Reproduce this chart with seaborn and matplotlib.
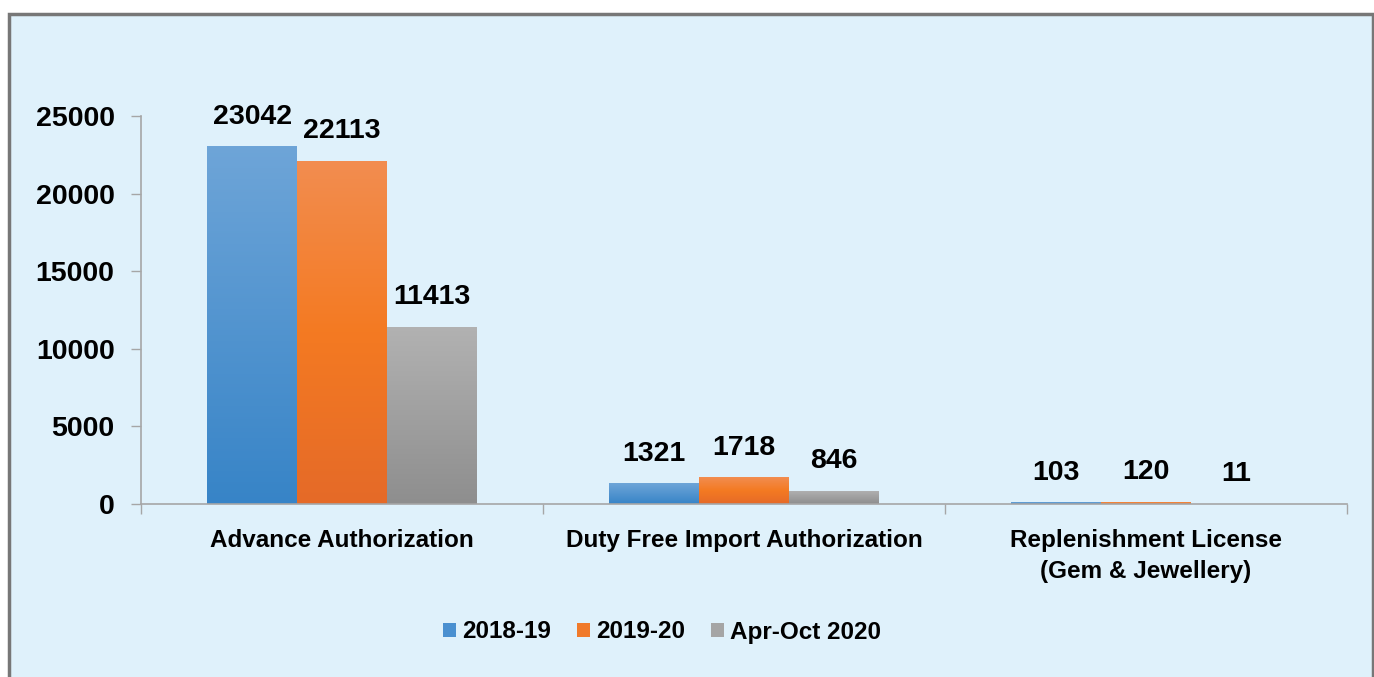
import numpy as np
import pandas as pd
import matplotlib
matplotlib.use("Agg")
import matplotlib.pyplot as plt
from matplotlib.colors import LinearSegmentedColormap
from matplotlib.patches import Rectangle, Patch
import seaborn as sns

categories = ["Advance Authorization", "Duty Free Import Authorization",
              "Replenishment License\n(Gem & Jewellery)"]
periods = ["2018-19", "2019-20", "Apr-Oct 2020"]
v_2018_19 = [23042, 1321, 103]
v_2019_20 = [22113, 1718, 120]
v_apr_oct_2020 = [11413, 846, 11]
y_ticks = [0, 5000, 10000, 15000, 20000, 25000]

colors = ["#4a90d0", "#f07a2a", "#a5a5a5"]
gradients = [("#6ea5d8", "#3784c7"), ("#f28d50", "#f47a22", "#e56a28"), ("#b2b2b2", "#8e8e8e")]

df = pd.DataFrame({
    "category": categories * 3,
    "period": [p for p in periods for _ in categories],
    "value": v_2018_19 + v_2019_20 + v_apr_oct_2020,
})

sns.set_theme(style="white")
plt.rcParams["font.family"] = ["Liberation Sans", "DejaVu Sans"]
plt.rcParams["font.weight"] = "bold"
plt.rcParams["text.color"] = "black"
plt.rcParams["xtick.color"] = "black"
plt.rcParams["ytick.color"] = "black"

fig = plt.figure(figsize=(13.74, 6.77), dpi=100, facecolor="white")
fig.patches.append(Rectangle((9 / 1374, -0.05), (1373 - 9) / 1374, 1.05 - 14 / 677,
                             transform=fig.transFigure, facecolor="#dff1fb",
                             edgecolor="#777777", linewidth=2.5, zorder=-5))
ax = fig.add_axes([141 / 1374, 1 - 504 / 677, (1347 - 141) / 1374, (504 - 116) / 677])
ax.set_facecolor("none")

sns.barplot(data=df, x="category", y="value", hue="period", hue_order=periods,
            palette=colors, width=0.67, gap=0, saturation=1, legend=False, ax=ax)

# vertical gradient fill for each bar
for ci, cont in enumerate(ax.containers):
    cmap = LinearSegmentedColormap.from_list(f"g{ci}", gradients[ci][::-1])
    for bar in cont:
        x0, y0 = bar.get_x(), bar.get_y()
        w, h = bar.get_width(), bar.get_height()
        grad = np.linspace(0, 1, 256).reshape(-1, 1)
        im = ax.imshow(grad, cmap=cmap, origin="lower", aspect="auto",
                       extent=(x0, x0 + w, y0, y0 + h), zorder=2)
        im.set_clip_path(bar)
        bar.set_edgecolor("none")
    ax.bar_label(cont, labels=[f"{int(v)}" for v in cont.datavalues],
                 padding=12, fontsize=20.5, fontweight="bold", color="black")

ax.set_xlim(-0.5, 2.5)
ax.set_ylim(0, 25000)
ax.set_yticks(y_ticks)
ax.set_yticklabels([str(t) for t in y_ticks], fontsize=20.5, fontweight="bold")
ax.set_xticks(range(len(categories)))
ax.set_xticklabels(categories, fontsize=17.5, fontweight="bold", linespacing=1.45)
ax.set_xticks([-0.5, 0.5, 1.5, 2.5], minor=True)
ax.tick_params(axis="x", which="major", length=0, pad=18)
ax.tick_params(axis="x", which="minor", length=7, width=1, color="#a6a6a6", direction="out", bottom=True)
ax.tick_params(axis="y", length=7, width=1, color="#a6a6a6", direction="out", pad=12, left=True)
ax.set_xlabel("")
ax.set_ylabel("")
for s in ["top", "right"]:
    ax.spines[s].set_visible(False)
for s in ["left", "bottom"]:
    ax.spines[s].set_color("#a6a6a6")
    ax.spines[s].set_linewidth(1.2)

handles = [Patch(facecolor=c, edgecolor="none", label=p) for c, p in zip(colors, periods)]
fig.legend(handles=handles, loc="center", bbox_to_anchor=(662 / 1374, 1 - 632 / 677),
           ncol=3, frameon=False, handlelength=0.55, handleheight=0.55,
           handletextpad=0.25, columnspacing=1.05, prop={"weight": "bold", "size": 17.5})

fig.savefig("out.png", dpi=100, facecolor="white")
